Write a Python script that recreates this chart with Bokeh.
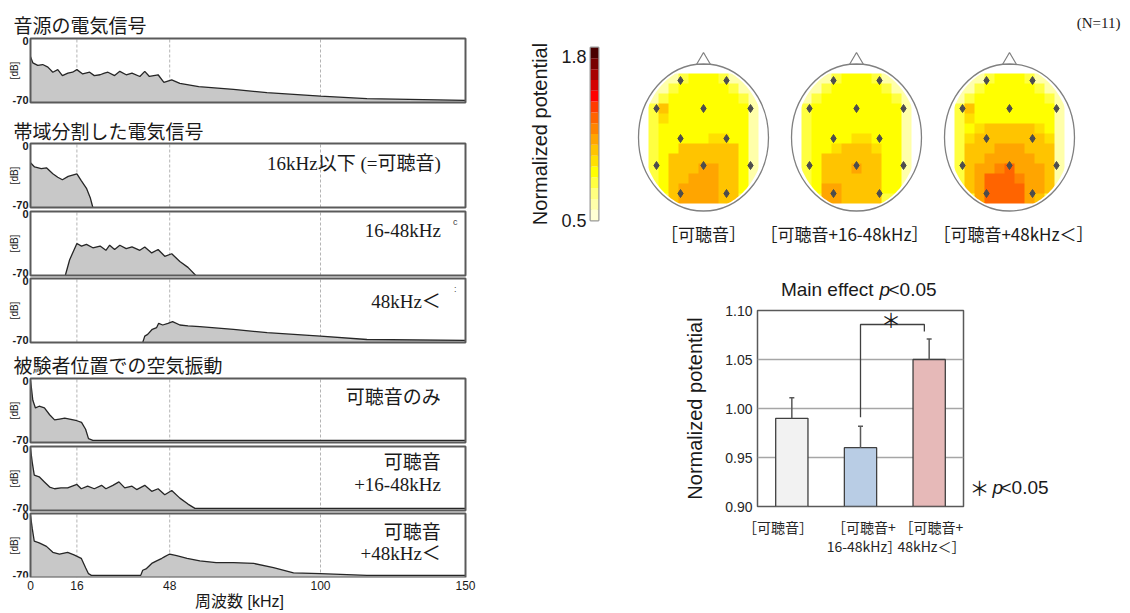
import numpy as np
from bokeh.plotting import figure
from bokeh.layouts import row, column
from bokeh.models import Range1d, FixedTicker, LinearColorMapper, PrintfTickFormatter
from bokeh.core.properties import value
from bokeh.embed import file_html
from bokeh.resources import INLINE

# ---------------- data: spectra (frequency kHz, level dB) ----------------
freq_ticks = [0, 16, 48, 100, 150]
band_lines = [16, 48, 100]
db_ticks = [0, -70]
db_tick_labels = ["0", "-70"]

source_f = [0, 0.8, 2.5, 4.2, 6.0, 7.7, 9.4, 11.0, 12.9, 14.5, 16.0, 18.0, 20.4, 22.0, 24.0, 25.5, 26.7,
            29.0, 30.8, 33.0, 35.0, 37.7, 39.4, 41.0, 44.0, 46.0, 48.7, 51.5, 58.0, 70.0, 81.5, 100.0, 116.0, 150.0]
source_db = [-19, -26, -29, -28, -31, -37, -34, -41, -38, -37, -34, -39, -37, -41, -40, -38, -37,
             -41, -36, -40, -38, -42, -36, -42, -40, -49, -46, -50, -54, -57, -61, -65, -68, -70]

low_f = [0, 1.4, 3.7, 5.5, 7.7, 9.4, 11.0, 13.0, 16.0, 17.5, 19.3, 20.6, 21.5]
low_db = [-20, -25, -27, -26, -33, -37, -40, -36, -33, -41, -50, -61, -72.5]

mid_f = [12.0, 13.5, 16.0, 17.6, 19.3, 21.5, 24.0, 26.0, 27.3, 29.0, 30.8, 33.0, 35.0, 37.7, 39.4,
         41.8, 44.0, 46.3, 48.7, 51.5, 54.3, 57.0]
mid_db = [-72.5, -54, -35, -38, -36, -40, -38, -43, -37, -42, -37, -41, -39, -43, -39,
          -46, -42, -50, -47, -56, -63, -72.5]

high_f = [38.7, 39.4, 40.4, 42.0, 43.5, 44.2, 45.6, 47.4, 49.0, 51.5, 54.3, 58.4, 70.0, 81.6, 100.0, 116.0, 150.0]
high_db = [-72.5, -65, -63, -57, -55, -50, -52, -50, -48, -52, -53, -54, -57, -61, -65, -69, -70]

air_low_f = [0, 0.3, 0.8, 1.7, 3.0, 4.8, 6.6, 8.3, 10.0, 11.8, 13.5, 16.0, 17.6, 19.0, 20.0, 21.5, 150.0]
air_low_db = [0, -8, -23, -32, -30, -32, -40, -46, -45, -44, -45, -47, -49, -57, -68, -70, -70]

air_mid_f = [0, 0.6, 1.3, 3.0, 4.8, 6.6, 8.3, 10.5, 12.8, 16.0, 17.5, 19.7, 22.0, 24.5, 26.0, 28.4, 30.5,
             32.5, 35.0, 36.6, 39.4, 41.8, 44.0, 46.3, 48.7, 51.5, 54.3, 56.7, 150.0]
air_mid_db = [0, -16, -31, -33, -39, -45, -47, -46, -46, -42, -47, -44, -47, -43, -47, -43, -39,
              -46, -44, -48, -43, -50, -47, -54, -49, -58, -65, -70, -70]

air_high_f = [0, 0.6, 1.3, 3.0, 5.5, 7.7, 10.0, 12.8, 15.0, 17.5, 19.0, 20.0, 21.0, 38.0, 38.7, 40.0,
              41.8, 43.5, 45.3, 46.3, 48.0, 50.4, 54.0, 58.4, 64.0, 70.0, 77.0, 83.8, 90.7, 100.0, 116.0, 150.0]
air_high_db = [0, -15, -30, -32, -36, -43, -45, -43, -46, -50, -61, -68, -70, -70, -64, -62,
               -56, -53, -50, -48, -45, -47, -50, -53, -55, -55, -56, -61, -67, -68, -70, -70]

section_titles = ["音源の電気信号", "帯域分割した電気信号", "被験者位置での空気振動"]
low_text, low_text_db = ["16kHz以下 (=可聴音)"], [-21.3]
mid_text, mid_text_db = ["16-48kHz"], [-20.1]
high_text, high_text_db = ["48kHz＜"], [-24.9]
air_low_text, air_low_text_db = ["可聴音のみ"], [-20.1]
air_mid_text, air_mid_text_db = ["可聴音", "+16-48kHz"], [-16.5, -41.5]
air_high_text, air_high_text_db = ["可聴音", "+48kHz＜"], [-20.1, -43.9]
freq_label = "周波数 [kHz]"

# ---------------- data: topographic maps ----------------
palette = ["#ffffd4", "#ffffaa", "#ffff80", "#ffff40", "#ffff00", "#ffe000", "#ffc400", "#ffa500",
           "#ff8400", "#ff6400", "#ff3c00", "#ff0000", "#d40000", "#a80000", "#780000", "#4a0000"]
cbar_low, cbar_high = 0.5, 1.87
cbar_ticks = [0.5, 1.8]
head_titles = ["［可聴音］", "［可聴音+16-48kHz］", "［可聴音+48kHz＜］"]

head_audible = [
    [.62, .62, .62, .79, .88, .88, .88, .79, .62, .62, .62],
    [.62, .62, .79, .88, .88, .88, .88, .88, .79, .62, .62],
    [.62, .79, .88, .88, .88, .88, .88, .88, .88, .79, .62],
    [.79, 1.05, .88, .88, .88, .88, .88, .88, .88, .88, .62],
    [.79, .97, .88, .88, .88, .88, .88, .88, .88, .88, .62],
    [.79, .88, .88, .88, .88, .88, .88, .88, .88, .88, .62],
    [.79, .88, .88, .88, .88, .88, .97, .97, .88, .88, .62],
    [.79, .88, .88, 1.05, 1.05, 1.05, 1.05, 1.05, 1.05, .88, .62],
    [.79, .88, 1.05, 1.05, 1.05, 1.05, 1.05, 1.05, 1.05, .88, .62],
    [.79, .88, 1.05, 1.05, 1.05, 1.14, 1.14, 1.05, 1.05, .88, .62],
    [.79, .88, 1.05, 1.05, 1.14, 1.14, 1.14, 1.05, 1.05, .88, .62],
    [.79, .88, 1.05, 1.14, 1.14, 1.14, 1.14, 1.05, 1.05, .88, .62],
    [.62, .79, 1.05, 1.14, 1.14, 1.14, 1.14, 1.05, 1.05, .79, .62],
]
head_mid = [
    [.62, .62, .62, .79, .88, .88, .88, .79, .62, .62, .62],
    [.62, .62, .79, .88, .88, .88, .88, .88, .79, .62, .62],
    [.62, .79, .88, .88, .88, .88, .88, .88, .88, .79, .62],
    [.79, .88, .88, .88, .88, .88, .88, .88, .88, .88, .62],
    [.79, .88, .88, .88, .88, .88, .88, .88, .88, .88, .62],
    [.79, .88, .88, .88, .88, .88, .88, .88, .88, .88, .62],
    [.79, .88, .88, .88, .88, .97, .97, .88, .88, .88, .62],
    [.79, .88, .88, .97, 1.05, 1.05, 1.05, .97, .88, .88, .62],
    [.79, .88, 1.05, 1.05, 1.05, 1.05, 1.05, 1.05, .88, .88, .62],
    [.79, .88, 1.05, 1.05, 1.05, 1.14, 1.05, 1.05, .88, .88, .62],
    [.79, .88, 1.05, 1.05, 1.05, 1.05, 1.05, 1.05, .88, .88, .62],
    [.79, .88, 1.14, 1.14, 1.05, 1.05, 1.05, 1.05, .88, .88, .62],
    [.62, .79, 1.14, 1.14, 1.05, 1.05, 1.05, 1.05, .79, .79, .62],
]
head_high = [
    [.62, .62, .62, .79, .88, .88, .88, .79, .62, .62, .62],
    [.62, .62, .79, .88, .88, .88, .88, .88, .79, .62, .62],
    [.62, .79, .88, .88, .88, .88, .88, .88, .88, .79, .62],
    [.79, 1.05, .88, .88, .88, .88, .88, .88, .88, .88, .62],
    [.79, .97, .88, .88, .88, .88, .88, .88, .88, .88, .62],
    [.79, .88, .97, 1.05, 1.05, 1.05, 1.05, 1.05, .97, .88, .62],
    [.79, .97, 1.05, 1.05, 1.05, 1.05, 1.05, 1.05, 1.05, .97, .62],
    [.79, 1.05, 1.05, 1.05, 1.14, 1.14, 1.14, 1.05, 1.05, 1.05, .62],
    [.79, 1.05, 1.05, 1.14, 1.14, 1.14, 1.14, 1.14, 1.05, 1.05, .62],
    [.79, 1.05, 1.14, 1.14, 1.22, 1.31, 1.14, 1.14, 1.14, 1.05, .62],
    [.79, 1.05, 1.14, 1.31, 1.31, 1.31, 1.22, 1.14, 1.14, 1.05, .62],
    [.79, 1.05, 1.14, 1.31, 1.31, 1.31, 1.31, 1.14, 1.14, 1.05, .62],
    [.62, .79, 1.14, 1.31, 1.31, 1.31, 1.31, 1.14, 1.05, .79, .62],
]
head_grids = [head_audible, head_mid, head_high]
# electrode layout (offsets from head centre, px)
elec_dx = [-23, 23, -47, 0, 47, -23, 23, -47, 0, 47, -23, 23]
elec_dy = [57, 57, 29, 29, 29, -1, -1, -28, -28, -28, -56, -56]

# ---------------- data: bar chart ----------------
bar_cats = ["可聴音", "可聴音+16-48kHz", "可聴音+48kHz<"]
bar_vals = [0.99, 0.96, 1.05]
bar_errs = [0.021, 0.022, 0.021]
bar_colors = ["#f2f2f2", "#b9cde5", "#e6b9b8"]
bar_ticks = [0.90, 0.95, 1.00, 1.05, 1.10]
bar_tick_labels = ["［可聴音］", "［可聴音+\n16-48kHz］", "［可聴音+\n48kHz＜］"]
bar_label_pos = [0.3, 1.55, 2.85]
bracket_y = [0.991, 1.0857, 1.0857, 1.0786]

# ---------------- styling ----------------
TXT = "#1a1a1a"
JP = "Noto Sans CJK JP"
SANS = "Liberation Sans"
SERIF = "Liberation Serif, Noto Sans CJK JP"
LINE = "#262626"
FILL = "#c8c8c8"
FRAME = "#5a5a5a"


def base_fig(**kw):
    return figure(toolbar_location=None, output_backend="svg", frame_align=False, **kw)


def no_ticks(ax):
    ax.major_tick_out = 0
    ax.major_tick_in = 0
    ax.minor_tick_out = 0
    ax.minor_tick_in = 0
    ax.axis_line_color = None


# ================= left: spectra (one canvas, one y-scale per panel) =================
XK = 435 / 150.0            # px per kHz
PX_DB = 64 / 75.0           # px per dB
F_BOT = 577                 # bottom row of the frame
LX0 = -30 / XK


def lx(px):
    return px / XK + LX0


lp = base_fig(width=478, height=613, x_range=Range1d(LX0, 150 + 13 / XK), y_range=Range1d(F_BOT, 0),
              y_axis_location=None, min_border_left=0, min_border_right=0, min_border_top=0,
              min_border_bottom=613 - F_BOT)
lp.grid.visible = False
lp.outline_line_color = None

panel_tops = [38, 143, 211, 278, 378, 446, 513]
panels = [
    (source_f, source_db, [], [], None),
    (low_f, low_db, low_text, low_text_db, None),
    (mid_f, mid_db, mid_text, mid_text_db, "c"),
    (high_f, high_db, high_text, high_text_db, ":"),
    (air_low_f, air_low_db, air_low_text, air_low_text_db, None),
    (air_mid_f, air_mid_db, air_mid_text, air_mid_text_db, None),
    (air_high_f, air_high_db, air_high_text, air_high_text_db, None),
]
extra = {}
for k, top in enumerate(panel_tops):
    hi = 2.5 + top / PX_DB
    lo = -72.5 - (F_BOT - (top + 64)) / PX_DB
    extra[f"p{k}"] = Range1d(lo, hi)
lp.extra_y_ranges = extra

for k, (f, db, texts, tdb, mark) in enumerate(panels):
    rn = f"p{k}"
    lp.segment(x0=band_lines, y0=[-72.5] * 3, x1=band_lines, y1=[2.5] * 3, line_color="#b4b4b4",
               line_dash="3 2", line_width=1, y_range_name=rn)
    lp.varea(x=f, y1=-72.5, y2=db, fill_color=FILL, y_range_name=rn)
    lp.line(f, db, line_color=LINE, line_width=1.3, y_range_name=rn)
    lp.quad(left=0, right=150, bottom=-72.5, top=2.5, fill_color=None, line_color=FRAME, line_width=2,
            y_range_name=rn)
    lp.text(x=[lx(28)] * 2, y=db_ticks, text=db_tick_labels, text_align="right", text_baseline="middle",
            text_font=value(SANS), text_font_size="11px", text_font_style="bold", text_color=TXT,
            y_range_name=rn)
    lp.text(x=[lx(14)], y=[-35], text=["[dB]"], angle=np.pi / 2, text_align="center", text_baseline="middle",
            text_font=value(SANS), text_font_size="10px", text_color=TXT, y_range_name=rn)
    if texts:
        lp.text(x=[141.5] * len(texts), y=tdb, text=texts, text_align="right", text_baseline="middle",
                text_font=value(SERIF), text_font_size="19px", text_color=TXT, y_range_name=rn)
    if mark:
        lp.text(x=[146.5], y=[-9.4], text=[mark], text_align="center", text_baseline="middle",
                text_font=value(SANS), text_font_size="9px", text_color="#444444", y_range_name=rn)

lp.text(x=[lx(13)] * 3, y=[24, 130, 364], text=section_titles, text_baseline="middle",
        text_font=value(JP), text_font_size="19px", text_color=TXT)

xax = lp.xaxis[0]
xax.ticker = FixedTicker(ticks=freq_ticks)
xax.major_label_text_font = SANS
xax.major_label_text_font_size = "12px"
xax.major_label_text_color = TXT
no_ticks(xax)
xax.major_label_standoff = 3
xax.axis_label = freq_label
xax.axis_label_text_font = "Liberation Sans, Noto Sans CJK JP"
xax.axis_label_text_font_size = "16px"
xax.axis_label_text_font_style = "normal"
xax.axis_label_text_color = TXT
xax.axis_label_standoff = 0

# ================= colour bar =================
cf = base_fig(width=132, height=248, x_range=Range1d(0, 1), y_range=Range1d(cbar_low, cbar_high),
              x_axis_location=None, y_axis_location="left",
              min_border_left=112, min_border_right=12, min_border_top=47, min_border_bottom=28)
cf.grid.visible = False
step = (cbar_high - cbar_low) / len(palette)
edges = [cbar_low + i * step for i in range(len(palette) + 1)]
cf.quad(left=0, right=1, bottom=edges[:-1], top=edges[1:], fill_color=palette, line_color=None)
cax = cf.yaxis[0]
cax.ticker = FixedTicker(ticks=cbar_ticks)
cax.major_label_text_font = SANS
cax.major_label_text_font_size = "18px"
cax.major_label_text_color = TXT
no_ticks(cax)
cax.major_label_standoff = 4
cax.axis_label = "Normalized potential"
cax.axis_label_text_font = SANS
cax.axis_label_text_font_size = "20px"
cax.axis_label_text_font_style = "normal"
cax.axis_label_text_color = TXT
cax.axis_label_standoff = 7
cf.outline_line_color = "#9a9a9a"
cf.outline_line_width = 2

# ================= heads =================
hf = base_fig(width=520, height=248, x_range=Range1d(610, 1130), y_range=Range1d(0, 248),
              x_axis_location=None, y_axis_location=None, min_border=0)
hf.grid.visible = False
hf.outline_line_color = None
mapper = LinearColorMapper(palette=palette, low=cbar_low, high=cbar_high)
head_cx = [703, 856, 1009]
label_cx = [703, 844, 1013]
head_cy = 111
theta = np.linspace(0, 2 * np.pi, 160)
for cx, lcx, grid, name in zip(head_cx, label_cx, head_grids, head_titles):
    hf.image(image=[np.flipud(np.array(grid, dtype=float))], x=cx - 55, y=head_cy - 66, dw=110, dh=130,
             color_mapper=mapper)
    outer_x = [cx - 58, cx + 58, cx + 58, cx - 58]
    outer_y = [head_cy - 70, head_cy - 70, head_cy + 68, head_cy + 68]
    hole_x = list(cx + 61 * np.cos(theta))
    hole_y = list(head_cy + 72 * np.sin(theta))
    hf.multi_polygons(xs=[[[outer_x, hole_x]]], ys=[[[outer_y, hole_y]]], fill_color="white", line_color=None)
    hf.patch([cx - 7, cx, cx + 7], [head_cy + 73, head_cy + 85, head_cy + 73], fill_color="white",
             line_color="#808080", line_width=1.2)
    hf.ellipse(x=cx, y=head_cy, width=130, height=147, fill_color=None, line_color="#808080", line_width=1.3)
    hf.scatter([cx + d for d in elec_dx], [head_cy + d for d in elec_dy], marker="diamond", size=8,
               color="#4d4d4d")
    hf.text(x=[lcx], y=[15], text=[name], text_align="center", text_baseline="middle",
            text_font=value(JP), text_font_size="17px", text_color=TXT)
hf.text(x=[1120], y=[226], text=["(N=11)"], text_align="right", text_baseline="middle",
        text_font=value("Liberation Serif"), text_font_size="15px", text_color=TXT)

# ================= bar chart title strip =================
tf = base_fig(width=652, height=54, x_range=Range1d(478, 1130), y_range=Range1d(302, 248),
              x_axis_location=None, y_axis_location=None, min_border=0)
tf.grid.visible = False
tf.outline_line_color = None
tf.text(x=[873], y=[289], text=["Main effect"], text_align="right", text_baseline="middle",
        text_font=value(SANS), text_font_size="19px", text_color=TXT)
tf.text(x=[879], y=[289], text=["p"], text_align="left", text_baseline="middle",
        text_font=value(SANS), text_font_size="19px", text_font_style="italic", text_color=TXT)
tf.text(x=[888], y=[289], text=["<0.05"], text_align="left", text_baseline="middle",
        text_font=value(SANS), text_font_size="19px", text_color=TXT)

# ================= bar chart =================
bf = base_fig(width=487, height=311, x_range=Range1d(0, len(bar_cats)), y_range=Range1d(0.9, 1.1),
              min_border_left=279, min_border_right=2, min_border_top=8, min_border_bottom=107)
bar_x = [i + 0.5 for i in range(len(bar_cats))]
bf.xgrid.visible = False
bf.ygrid.ticker = FixedTicker(ticks=bar_ticks[1:-1])
bf.ygrid.grid_line_color = "#a6a6a6"
bf.ygrid.grid_line_width = 1.5
bf.vbar(x=bar_x, top=bar_vals, bottom=0.9, width=0.47, fill_color=bar_colors,
        line_color="#404040", line_width=1.3)
tops = [v + e for v, e in zip(bar_vals, bar_errs)]
bf.segment(x0=bar_x, y0=bar_vals, x1=bar_x, y1=tops, line_color="#595959", line_width=1.5)
bf.scatter(x=bar_x, y=tops, marker="dash", size=5, line_color="#595959", line_width=1.5)
i2 = bar_x[1]
i3 = bar_x[2] - 0.07
bf.line([i2, i2, i3, i3], bracket_y, line_color="#404040", line_width=1.3)
bf.text(x=[(i2 + i3) / 2 - 0.02], y=[1.0905], text=["＊"], text_align="center", text_baseline="middle",
        text_font=value(JP), text_font_size="20px", text_color=TXT)

xb = bf.xaxis[0]
xb.ticker = FixedTicker(ticks=bar_label_pos)
xb.major_label_overrides = {k: t for k, t in zip(bar_label_pos, bar_tick_labels)}
xb.major_label_text_font = JP
xb.major_label_text_font_size = "14px"
xb.major_label_text_color = "#262626"
xb.major_label_text_line_height = 0.99
no_ticks(xb)
xb.major_label_standoff = 10

yb = bf.yaxis[0]
yb.ticker = FixedTicker(ticks=bar_ticks)
yb.formatter = PrintfTickFormatter(format="%.2f")
yb.major_label_text_font = SANS
yb.major_label_text_font_size = "14px"
yb.major_label_text_color = "#262626"
no_ticks(yb)
yb.major_label_standoff = 5
yb.axis_label = "Normalized potential"
yb.axis_label_text_font = SANS
yb.axis_label_text_font_size = "20px"
yb.axis_label_text_font_style = "normal"
yb.axis_label_text_color = TXT
yb.axis_label_standoff = 16
bf.outline_line_color = "#595959"
bf.outline_line_width = 1.5

# ================= significance legend =================
gf = base_fig(width=165, height=311, x_range=Range1d(965, 1130), y_range=Range1d(613, 302),
              x_axis_location=None, y_axis_location=None, min_border=0)
gf.grid.visible = False
gf.outline_line_color = None
gf.text(x=[979], y=[487], text=["＊"], text_align="center", text_baseline="middle",
        text_font=value(JP), text_font_size="20px", text_color=TXT)
gf.text(x=[992], y=[487], text=["p"], text_align="left", text_baseline="middle",
        text_font=value(SANS), text_font_size="19px", text_font_style="italic", text_color=TXT)
gf.text(x=[1000], y=[487], text=["<0.05"], text_align="left", text_baseline="middle",
        text_font=value(SANS), text_font_size="19px", text_color=TXT)

right = column(row(cf, hf), tf, row(bf, gf))
layout = row(lp, right)

open("out.html", "w").write(file_html(layout, INLINE))
